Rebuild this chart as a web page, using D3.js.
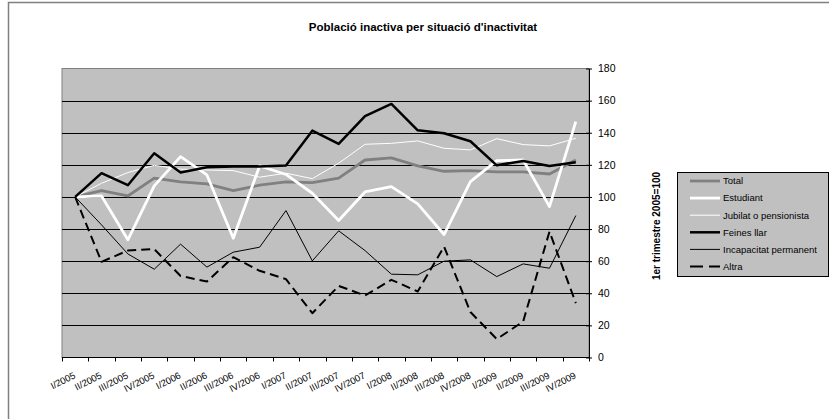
<!DOCTYPE html>
<html>
<head>
<meta charset="utf-8">
<script src="https://cdn.jsdelivr.net/npm/d3@7"></script>
<style>
  body { margin: 0; background: #fff; }
  svg { display: block; font-family: "Liberation Sans", Arial, sans-serif; }
</style>
</head>
<body>
<svg id="chart" width="829" height="419"></svg>
<script>
// Quarterly index of the inactive population (1st quarter 2005 = 100)
const categories = ["I/2005","II/2005","III/2005","IV/2005","I/2006","II/2006","III/2006","IV/2006",
  "I/2007","II/2007","III/2007","IV/2007","I/2008","II/2008","III/2008","IV/2008",
  "I/2009","II/2009","III/2009","IV/2009"];
const total       = [100,104,100.6,111.7,109.4,108.1,104,107.3,109.4,108.9,111.7,123,124.3,119.3,116,116.4,115.6,115.6,114.3,123];
const estudiant   = [100,100.6,73.3,106.9,125.1,113.7,74.3,119.3,114,102.3,85.3,103.1,106.4,95.7,76.6,109.6,122.6,123,94,146.9];
const jubilat     = [100,108.5,115.2,119.7,117.3,116.8,116.4,112.3,114.8,111.4,121,132.8,133.4,134.9,130.3,129.3,136.3,132.6,131.8,136.5];
const feinesLlar  = [100,114.8,107.3,127.2,115.2,118.5,119,119,119.6,141.3,133,150.4,157.9,141.5,139.7,134.7,119.7,122.4,119.3,121.6];
const incapacitat = [100,82.6,64.5,55,70.6,56.3,65.6,68.7,91.5,60.2,78.9,66.6,51.9,51.5,60,60.8,50.4,58.3,55.6,88.4];
const altra       = [100,59.6,66.6,67.5,50.8,47.3,62.5,54,48.8,27.6,44.6,38.6,48.4,41.1,69.1,28.3,11.5,22.4,78.4,33.9];
const yTicks = [0,20,40,60,80,100,120,140,160,180];

const series = [
  { name: "Total", values: total, color: "#808080", width: 2.8, dash: null },
  { name: "Estudiant", values: estudiant, color: "#ffffff", width: 2.8, dash: null },
  { name: "Jubilat o pensionista", values: jubilat, color: "#ffffff", width: 1, dash: null },
  { name: "Feines llar", values: feinesLlar, color: "#000000", width: 2.5, dash: null },
  { name: "Incapacitat permanent", values: incapacitat, color: "#000000", width: 1, dash: null },
  { name: "Altra", values: altra, color: "#000000", width: 2, dash: "9,5" }
];

const svg = d3.select("#chart");
const plot = { left: 62, right: 589, top: 68.5, bottom: 357.5 };

// outer chart frame (top and left edges)
svg.append("path")
  .attr("d", `M8.5,419 L8.5,2.5 L829,2.5`)
  .attr("fill", "none").attr("stroke", "#808080").attr("stroke-width", 1.5);

const x = d3.scaleBand().domain(categories).range([plot.left, plot.right]);
const y = d3.scaleLinear().domain([0, 180]).range([plot.bottom, plot.top]);

// plot area
svg.append("rect")
  .attr("x", plot.left).attr("y", plot.top)
  .attr("width", plot.right - plot.left).attr("height", plot.bottom - plot.top)
  .attr("fill", "#c0c0c0").attr("stroke", "#808080").attr("stroke-width", 1);

// horizontal gridlines
svg.append("g").selectAll("line")
  .data(yTicks.filter(d => d > 0 && d < 180))
  .join("line")
  .attr("x1", plot.left).attr("x2", plot.right)
  .attr("y1", d => Math.round(y(d)) + 0.5).attr("y2", d => Math.round(y(d)) + 0.5)
  .attr("stroke", "#000").attr("stroke-width", 1);

// right value axis
const yAxis = svg.append("g")
  .attr("transform", `translate(${plot.right},0)`)
  .call(d3.axisRight(y).tickValues(yTicks).tickSize(3).tickPadding(6).tickSizeOuter(0));
yAxis.select(".domain").attr("stroke", "#000");
yAxis.selectAll(".tick line").attr("x1", -3).attr("x2", 3).attr("stroke", "#000");
yAxis.selectAll(".tick text").attr("font-size", 10.5).attr("fill", "#000")
  .attr("font-family", "Liberation Sans, Arial, sans-serif");

// bottom category axis: ticks at band boundaries
const bounds = categories.map(c => x(c)).concat([plot.right]);
svg.append("line")
  .attr("x1", plot.left).attr("x2", plot.right)
  .attr("y1", plot.bottom).attr("y2", plot.bottom)
  .attr("stroke", "#000");
svg.append("g").selectAll("line")
  .data(bounds)
  .join("line")
  .attr("x1", d => Math.round(d) + 0.5).attr("x2", d => Math.round(d) + 0.5)
  .attr("y1", plot.bottom).attr("y2", plot.bottom + 4)
  .attr("stroke", "#000");

svg.append("g").selectAll("text")
  .data(categories)
  .join("text")
  .attr("transform", d => `translate(${x(d) + x.bandwidth() / 2 + 1},${plot.bottom + 20}) rotate(-27)`)
  .attr("text-anchor", "end")
  .attr("font-size", 9.5)
  .attr("fill", "#000")
  .text(d => d);

// series lines
const line = d3.line()
  .x((d, i) => x(categories[i]) + x.bandwidth() / 2)
  .y(d => y(d));

svg.append("g").selectAll("path")
  .data(series)
  .join("path")
  .attr("d", s => line(s.values))
  .attr("fill", "none")
  .attr("stroke", s => s.color)
  .attr("stroke-width", s => s.width)
  .attr("stroke-dasharray", s => s.dash)
  .attr("stroke-linejoin", "round");

// title
svg.append("text")
  .attr("x", 423).attr("y", 31)
  .attr("text-anchor", "middle")
  .attr("font-size", 11.5).attr("font-weight", "bold")
  .text("Població inactiva per situació d'inactivitat");

// value axis title
svg.append("text")
  .attr("transform", "translate(660,226) rotate(-90)")
  .attr("text-anchor", "middle")
  .attr("font-size", 10).attr("font-weight", "bold")
  .text("1er trimestre 2005=100");

// legend
const legend = svg.append("g").attr("transform", "translate(677,172)");
legend.append("rect")
  .attr("x", 0.5).attr("y", 0.5).attr("width", 151).attr("height", 104)
  .attr("fill", "#c0c0c0").attr("stroke", "#000").attr("stroke-width", 1);
const items = legend.selectAll("g.item")
  .data(series)
  .join("g")
  .attr("class", "item")
  .attr("transform", (d, i) => `translate(0,${9 + i * 17.1})`);
items.append("line")
  .attr("x1", 13).attr("x2", 43).attr("y1", 0).attr("y2", 0)
  .attr("stroke", d => d.color)
  .attr("stroke-width", d => d.width)
  .attr("stroke-dasharray", d => d.dash ? "13,6" : null);
items.append("text")
  .attr("x", 46).attr("y", 0).attr("dy", "0.35em")
  .attr("font-size", 9.5).attr("fill", "#000")
  .text(d => d.name);
</script>
</body>
</html>
